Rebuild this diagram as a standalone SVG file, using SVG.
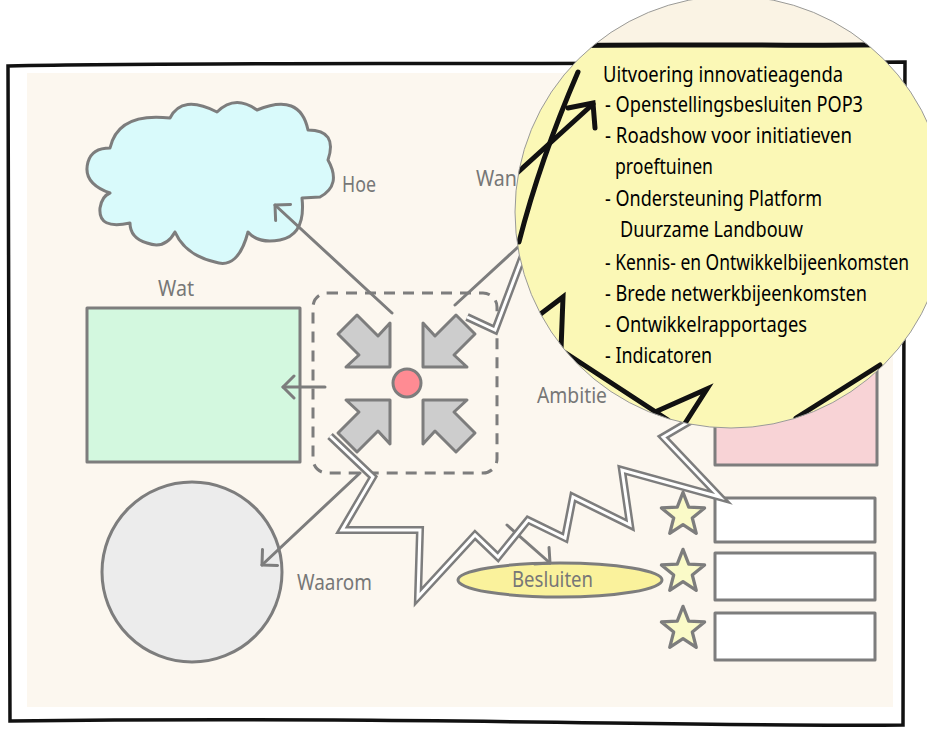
<svg xmlns="http://www.w3.org/2000/svg" width="927" height="730" viewBox="0 0 927 730">
<style>
.g{stroke:#7d7d7d;stroke-width:3;fill:none;stroke-linejoin:round;stroke-linecap:round}
.n{stroke:#7d7d7d;stroke-width:3;stroke-linejoin:round}
.lbl{font-family:"Noto Sans","Liberation Sans",sans-serif;font-size:21px;fill:#777777}
.mt{font-family:"Noto Sans","Liberation Sans",sans-serif;font-size:22px;fill:#000000}
.bk{stroke:#111;stroke-width:5;fill:none;stroke-linejoin:miter;stroke-linecap:round}
.zo{stroke:#7d7d7d;stroke-width:8;fill:none;stroke-linejoin:miter;stroke-miterlimit:10}
.zi{stroke:#ffffff;stroke-width:3;fill:none;stroke-linejoin:miter;stroke-miterlimit:10}
</style>
<defs>
<marker id="ah" markerUnits="userSpaceOnUse" viewBox="-14 -13 16 26" refX="0" refY="0" markerWidth="16" markerHeight="26" orient="auto">
<path d="M-11,-11 L0,0 L-11,11" fill="none" stroke="#7d7d7d" stroke-width="3" stroke-linecap="round" stroke-linejoin="round"/>
</marker>
<path id="garrow" d="M0,0 L-44,0 L-31,-12 L-52,-33 L-33,-52 L-12,-31 L0,-44 Z" fill="#cdcdcd" stroke="#7d7d7d" stroke-width="3" stroke-linejoin="round"/>
<polygon id="star" points="0,-21 5.3,-7.3 20,-6.5 8.6,2.8 12.3,17 0,9 -12.3,17 -8.6,2.8 -20,-6.5 -5.3,-7.3" fill="#fafac8" stroke="#7d7d7d" stroke-width="3" stroke-linejoin="round"/>
<clipPath id="mag"><circle cx="731" cy="212" r="216"/></clipPath>
</defs>

<rect x="0" y="0" width="927" height="730" fill="#ffffff"/>
<g id="frame">
<rect x="27" y="73" width="866" height="634" fill="#fcf7ef"/>
<path d="M8,66 C200,62 400,65 905,62 L904,300 L903,725 C700,727 400,716 10,721 L9,400 Z" fill="none" stroke="#111" stroke-width="3.5"/>
</g>

<g id="hoe">
<path class="n" fill="#d9fafb" d="M110,148 Q118,112 170,118 Q182,94 217,112 Q235,94 257,110 Q300,92 308,130 Q338,130 328,160 Q342,185 320,197 L302,198 Q306,235 280,240 Q258,244 248,232 Q238,270 215,262 Q185,255 175,232 Q165,250 147,243 Q130,238 130,223 Q98,230 100,208 Q102,196 110,193 Q82,183 88,162 Q92,148 110,148 Z"/>
<text class="lbl" x="342" y="192" textLength="34" lengthAdjust="spacingAndGlyphs">Hoe</text>
</g>
<g id="wat">
<rect class="n" x="87" y="308" width="213" height="154" fill="#d3f8df"/>
<text class="lbl" x="158" y="296" textLength="36" lengthAdjust="spacingAndGlyphs">Wat</text>
</g>
<g id="waarom">
<circle class="n" cx="192" cy="572" r="90" fill="#ececec"/>
<text class="lbl" x="297" y="590" textLength="75" lengthAdjust="spacingAndGlyphs">Waarom</text>
</g>
<g id="ambitie">
<rect class="n" x="715" y="290" width="162" height="175" fill="#f8d3d6"/>
<text class="lbl" x="537" y="403" textLength="70" lengthAdjust="spacingAndGlyphs">Ambitie</text>
</g>
<g id="wan">
<text class="lbl" x="476" y="186" textLength="41" lengthAdjust="spacingAndGlyphs">Wan</text>
</g>
<g id="resultaten">
<rect class="n" x="715" y="498" width="160" height="44" fill="#ffffff"/>
<rect class="n" x="715" y="553" width="160" height="47" fill="#ffffff"/>
<rect class="n" x="715" y="613" width="160" height="47" fill="#ffffff"/>
<use href="#star" transform="translate(683,515) scale(1.08)"/>
<use href="#star" transform="translate(683,572) scale(1.08)"/>
<use href="#star" transform="translate(683,629) scale(1.08)"/>
</g>
<g id="besluiten">
<ellipse class="n" cx="560" cy="580" rx="102" ry="17" fill="#faf29c"/>
<text class="lbl" x="512" y="587" textLength="81" lengthAdjust="spacingAndGlyphs">Besluiten</text>
</g>
<g id="kern">
<rect x="313" y="293" width="184" height="180" rx="14" fill="none" stroke="#7d7d7d" stroke-width="3" stroke-dasharray="11 8"/>
<use href="#garrow" transform="translate(390,367)"/>
<use href="#garrow" transform="translate(423,367) scale(-1,1)"/>
<use href="#garrow" transform="translate(390,400) scale(1,-1)"/>
<use href="#garrow" transform="translate(423,400) scale(-1,-1)"/>
<circle class="n" cx="407" cy="383" r="14" fill="#ff8b93"/>
</g>

<g id="connectors">
<path class="g" d="M392,313 L275,205" marker-end="url(#ah)"/>
<path class="g" d="M325,387 L283,387" marker-end="url(#ah)"/>
<path class="g" d="M360,473 L262,565" marker-end="url(#ah)"/>
<path class="g" d="M507,525 L550,563" marker-end="url(#ah)"/>
<path class="g" d="M455,305 L530,236"/>
<path class="zo" d="M330,436 L373,477 L342,530 L420,530 L418,597 L475,535 L498,557 L528,520 L565,538 L573,497 L630,525 L622,470 L720,497 L663,437 L692,420"/>
<path class="zi" d="M330,436 L373,477 L342,530 L420,530 L418,597 L475,535 L498,557 L528,520 L565,538 L573,497 L630,525 L622,470 L720,497 L663,437 L692,420"/>
<path class="zo" d="M467,317 L495,330 L527,245"/>
<path class="zi" d="M467,317 L495,330 L527,245"/>
</g>

<g id="magnifier">
<circle cx="731" cy="212" r="216" fill="#fbf8b6"/>
<g clip-path="url(#mag)">
<rect x="500" y="-10" width="460" height="55" fill="#faf3e4"/>
<path class="bk" d="M540,46 C650,43 760,47 960,44" stroke-width="5"/>
<path class="bk" d="M519,242 Q540,160 578,72"/>
<path class="bk" d="M516,174 L593,104"/>
<path class="bk" d="M568,108 L593,103 L595,128"/>
<path class="bk" d="M530,322 L563,297 L561,350 L668,420"/>
<path class="bk" d="M655,412 L707,389 L682,428"/>
<path class="bk" d="M796,418 L880,365"/>
</g>
<circle cx="731" cy="212" r="216" fill="none" stroke="#9a9a9a" stroke-width="1"/>
<text class="mt" x="603" y="82" textLength="240" lengthAdjust="spacingAndGlyphs">Uitvoering innovatieagenda</text>
<text class="mt" x="605" y="112" textLength="258" lengthAdjust="spacingAndGlyphs">- Openstellingsbesluiten POP3</text>
<text class="mt" x="605" y="143" textLength="247" lengthAdjust="spacingAndGlyphs">- Roadshow voor initiatieven</text>
<text class="mt" x="615" y="174" textLength="98" lengthAdjust="spacingAndGlyphs">proeftuinen</text>
<text class="mt" x="605" y="206" textLength="217" lengthAdjust="spacingAndGlyphs">- Ondersteuning Platform</text>
<text class="mt" x="620" y="237" textLength="183" lengthAdjust="spacingAndGlyphs">Duurzame Landbouw</text>
<text class="mt" transform="translate(605,270) scale(0.79,1)" x="0" y="0" textLength="385" lengthAdjust="spacingAndGlyphs">- Kennis- en Ontwikkelbijeenkomsten</text>
<text class="mt" x="605" y="301" textLength="262" lengthAdjust="spacingAndGlyphs">- Brede netwerkbijeenkomsten</text>
<text class="mt" x="605" y="332" textLength="202" lengthAdjust="spacingAndGlyphs">- Ontwikkelrapportages</text>
<text class="mt" x="605" y="363" textLength="107" lengthAdjust="spacingAndGlyphs">- Indicatoren</text>
</g>
</svg>
